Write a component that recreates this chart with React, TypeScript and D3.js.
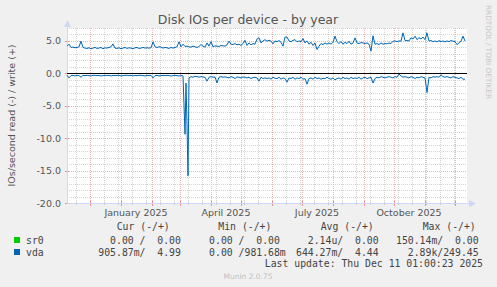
import React from "react";
import * as d3 from "d3";

const title = "Disk IOs per device - by year";
const yAxisTitle = "IOs/second read (-) / write (+)";
const startDate = new Date(Date.UTC(2024, 10, 8));
const endDate = new Date(Date.UTC(2025, 11, 13));
const stepDays = 2;

// vda write (+) IOs/s, one value every 2 days from startDate
const writeVals = [
  4.2, 4.5, 4.0, 4.05, 3.95, 4.0, 4.1, 4.97, 4.0, 3.9,
  3.85, 3.95, 3.8, 3.9, 4.0, 3.85, 3.9, 4.0, 3.8, 3.95,
  3.9, 4.0, 4.1, 4.55, 3.9, 3.85, 3.95, 3.8, 3.9, 4.0,
  3.85, 3.95, 3.9, 3.8, 3.95, 4.0, 3.85, 3.9, 4.0, 3.9,
  3.95, 3.9, 3.95, 4.86, 4.1, 4.0, 4.1, 4.05, 3.9, 4.0,
  3.95, 3.85, 4.0, 3.9, 4.0, 4.1, 4.86, 4.1, 4.5, 4.15,
  4.2, 4.1, 4.05, 4.2, 4.1, 4.0, 4.15, 4.45, 4.2, 4.05,
  4.7, 4.2, 4.9, 4.1, 4.25, 4.2, 4.15, 4.3, 4.25, 4.2,
  4.4, 4.97, 4.5, 4.45, 4.6, 4.4, 4.5, 4.3, 4.6, 5.1,
  4.3, 4.7, 4.4, 4.6, 4.5, 5.3, 5.5, 4.7, 5.0, 5.2,
  4.97, 5.1, 4.97, 4.55, 5.0, 4.9, 5.06, 4.8, 4.2, 5.6,
  5.6, 5.0, 4.9, 5.1, 5.2, 4.86, 5.0, 4.9, 5.37, 4.7,
  5.0, 4.5, 4.8, 4.3, 4.7, 3.68, 4.2, 4.6, 4.45, 4.7,
  4.5, 4.7, 4.5, 4.8, 5.74, 4.9, 4.6, 4.9, 4.5, 4.8,
  4.6, 4.97, 4.5, 4.7, 5.48, 4.7, 4.6, 4.75, 4.7, 4.6,
  4.7, 4.5, 3.43, 5.8, 4.5, 4.6, 4.45, 4.7, 4.5, 4.6,
  4.55, 4.7, 4.6, 4.97, 5.0, 4.9, 5.0, 4.97, 6.25, 5.06,
  5.06, 5.0, 5.5, 5.3, 5.74, 5.2, 5.5, 5.3, 5.6, 5.2,
  6.25, 5.0, 5.06, 4.9, 5.0, 4.86, 5.06, 4.9, 5.0, 4.86,
  5.0, 4.9, 5.06, 4.97, 4.9, 4.45, 4.7, 4.97, 5.74, 4.99,
];

// vda read (-) IOs/s, one value every 2 days from startDate (drawn negative)
const readVals = [
  0.3, 0.7, 0.35, 0.3, 0.4, 0.3, 0.35, 0.6, 0.3, 0.35,
  0.3, 0.35, 0.4, 0.3, 0.3, 0.35, 0.3, 0.4, 0.35, 0.3,
  0.35, 0.3, 0.4, 0.3, 0.35, 0.3, 0.3, 0.4, 0.35, 0.3,
  0.3, 0.35, 0.3, 0.4, 0.3, 0.35, 0.3, 0.3, 0.35, 0.4,
  0.3, 0.35, 0.3, 0.7, 0.35, 0.3, 0.4, 0.35, 0.3, 0.35,
  0.3, 0.35, 0.4, 0.35, 0.3, 0.35, 0.4, 0.35, 0.4, 9.4,
  8.0, 0.7, 0.5, 0.6, 0.45, 0.5, 0.6, 0.5, 0.55, 0.6,
  1.2, 0.6, 0.5, 0.6, 0.55, 1.47, 0.6, 0.5, 0.6, 0.55,
  0.6, 0.7, 0.5, 0.6, 0.8, 0.55, 0.6, 0.7, 0.55, 0.6,
  0.7, 0.6, 0.8, 0.65, 0.6, 0.7, 1.2, 0.6, 0.8, 0.7,
  0.8, 0.7, 0.9, 0.6, 0.75, 0.8, 0.6, 0.9, 0.7, 0.8,
  1.36, 0.7, 0.8, 0.6, 0.9, 0.7, 0.8, 0.6, 0.9, 0.8,
  1.67, 0.8, 0.7, 0.9, 0.6, 0.8, 0.7, 0.9, 0.75, 0.8,
  0.6, 0.8, 0.9, 0.7, 1.0, 0.8, 0.7, 0.9, 0.6, 0.8,
  0.7, 0.9, 0.6, 0.8, 0.7, 0.8, 0.6, 0.9, 0.7, 0.6,
  0.8, 0.7, 0.6, 1.5, 0.8, 0.6, 0.7, 0.5, 0.6, 0.7,
  0.6, 0.5, 0.6, 0.7, 0.5, 0.6, 0.1, 0.4, 0.6, 0.5,
  0.6, 0.7, 0.5, 0.6, 0.8, 0.6, 0.7, 0.5, 0.6, 0.7,
  2.96, 0.6, 0.7, 0.5, 0.6, 0.5, 0.6, 0.23, 0.5, 0.6,
  0.5, 0.6, 0.7, 0.5, 0.6, 0.7, 0.8, 0.6, 0.9, 0.9,
];

// extra daily read samples around the February spike (day offset, value)
const readSpikeDays = [119, 121];
const readSpikeVals = [1.5, 15.8];

const yMin = -20;
const yMax = 7;
const yLabelTicks = [5, 0, -5, -10, -15, -20];

const legendHeaders = ["Cur (-/+)", "Min (-/+)", "Avg (-/+)", "Max (-/+)"];
const seriesNames = ["sr0", "vda"];
const seriesColors = ["#00CC00", "#0066B3"];
const curVals = ["  0.00 /  0.00", "905.87m/  4.99"];
const minVals = ["  0.00 /  0.00", "  0.00 /981.68m"];
const avgVals = ["  2.14u/  0.00", "644.27m/  4.44"];
const maxVals = ["150.14m/  0.00", "  2.89k/249.45"];
const lastUpdate = "Last update: Thu Dec 11 01:00:23 2025";
const footer = "Munin 2.0.75";
const watermark = "RRDTOOL / TOBI OETIKER";

const DAY = 86400000;

export default function App() {
  const W = 497;
  const H = 287;
  const left = 67;
  const right = 467;
  const top = 28;
  const bottom = 203;

  const x = d3.scaleUtc().domain([startDate, endDate]).range([left, right]);
  const y = d3.scaleLinear().domain([yMin, yMax]).range([bottom, top]);

  const dayDate = (d: number) => new Date(startDate.getTime() + d * DAY);

  const writePts = writeVals.map((v, i) => ({ d: dayDate(i * stepDays), v }));
  const readPtsRaw = readVals.map((v, i) => ({ day: i * stepDays, v }));
  readSpikeDays.forEach((day, i) => readPtsRaw.push({ day, v: readSpikeVals[i] }));
  readPtsRaw.sort((a, b) => a.day - b.day);
  const readPts = readPtsRaw.map((p) => ({ d: dayDate(p.day), v: -p.v }));

  const line = d3
    .line<{ d: Date; v: number }>()
    .x((p) => x(p.d))
    .y((p) => y(p.v));

  const months = d3.utcMonth.range(startDate, endDate);
  const minorX = d3.utcDay.range(new Date(Date.UTC(2024, 10, 17)), endDate, 14);
  const labelMonths = months.filter((m) => m.getUTCMonth() % 3 === 0);
  const fmt = d3.utcFormat("%B %Y");

  const minorY = d3.range(yMin, yMax + 1, 1).filter((v) => v % 5 !== 0);
  const majorY = d3.range(yMin, yMax + 1, 5);

  const mono = "'DejaVu Sans Mono', monospace";
  const sans = "'DejaVu Sans', sans-serif";
  const colStarts = [98.3, 197.3, 296, 396];
  const headerStarts = [116.7, 218.3, 320.7, 422.7];
  const cols = [curVals, minVals, avgVals, maxVals];
  const rowY = [243.5, 255.5];
  const px = (v: number) => Math.round(v) + 0.5;

  return (
    <svg width={W} height={H} style={{ display: "block", position: "absolute", left: 0, top: 0 }}>
      <rect x={0} y={0} width={W} height={H} fill="#F0F0F0" />
      <rect x={left} y={top} width={right - left} height={bottom - top} fill="#FFFFFF" />

      {/* minor grid */}
      {minorY.map((v) => (
        <line key={"my" + v} x1={left} x2={right} y1={px(y(v))} y2={px(y(v))}
          stroke="#D4D4D4" strokeDasharray="1,1" />
      ))}
      {minorX.map((d) => (
        <line key={"mx" + d.getTime()} x1={px(x(d))} x2={px(x(d))} y1={top} y2={bottom}
          stroke="#D4D4D4" strokeDasharray="1,1" />
      ))}
      {/* major grid */}
      {majorY.map((v) => (
        <line key={"My" + v} x1={left} x2={right} y1={px(y(v))} y2={px(y(v))}
          stroke="#F0B4B4" strokeDasharray="1,1" />
      ))}
      {months.map((d) => (
        <line key={"Mx" + d.getTime()} x1={px(x(d))} x2={px(x(d))} y1={top} y2={bottom}
          stroke="#F0B4B4" strokeDasharray="1,1" />
      ))}

      {/* tick marks */}
      {minorX.map((d) => (
        <line key={"tmx" + d.getTime()} x1={px(x(d))} x2={px(x(d))} y1={bottom - 1} y2={bottom + 2}
          stroke="#C8C8C8" />
      ))}
      {months.map((d) => (
        <line key={"tMx" + d.getTime()} x1={px(x(d))} x2={px(x(d))} y1={bottom - 2} y2={bottom + 3}
          stroke="#E89090" />
      ))}
      {majorY.map((v) => (
        <line key={"tMy" + v} x1={left - 2} x2={left + 2} y1={px(y(v))} y2={px(y(v))}
          stroke="#E89090" />
      ))}

      {/* axes */}
      <line x1={left + 0.5} x2={left + 0.5} y1={bottom + 0.5} y2={top - 4} stroke="#CFD6F8" />
      <path d={`M${left + 0.5},${top - 8} L${left - 3},${top - 1} L${left + 4},${top - 1} Z`} fill="#CFD6F8" />
      <line x1={left} x2={right + 5} y1={bottom + 0.5} y2={bottom + 0.5} stroke="#CFD6F8" />
      <path d={`M${right + 9},${bottom + 0.5} L${right + 2},${bottom - 3} L${right + 2},${bottom + 4} Z`} fill="#CFD6F8" />

      {/* data */}
      <line x1={left} x2={right} y1={px(y(0))} y2={px(y(0))} stroke={seriesColors[0]} />
      <path d={line(writePts) || ""} fill="none" stroke={seriesColors[1]} strokeWidth={1} />
      <path d={line(readPts) || ""} fill="none" stroke={seriesColors[1]} strokeWidth={1} />
      <line x1={left} x2={right} y1={px(y(0))} y2={px(y(0))} stroke="#000000" />

      {/* y labels */}
      {yLabelTicks.map((v) => (
        <text key={"yl" + v} x={61} y={y(v) + 3.5} textAnchor="end" fontFamily={sans} fontSize={9.5} fill="#555">
          {v.toFixed(1)}
        </text>
      ))}
      {/* x labels */}
      {labelMonths.map((m) => (
        <text key={"xl" + m.getTime()} x={x(new Date(m.getTime() + 15 * DAY))} y={215.5} textAnchor="middle"
          fontFamily={sans} fontSize={9.5} fill="#555">
          {fmt(m)}
        </text>
      ))}

      {/* title */}
      <text x={248} y={23.5} textAnchor="middle" fontFamily={sans} fontSize={12.5} fill="#555">{title}</text>
      <text transform={`translate(14.5,${(top + bottom) / 2}) rotate(-90)`} textAnchor="middle" fontFamily={sans}
        fontSize={9.5} fill="#555">{yAxisTitle}</text>
      <text transform={`translate(486,5) rotate(90)`} textAnchor="start" fontFamily={sans} fontSize={7.3}
        fill="#C8C8C8">{watermark}</text>

      {/* legend */}
      {legendHeaders.map((h, i) => (
        <text key={"h" + i} x={headerStarts[i]} y={230} fontFamily={mono} fontSize={9.8} fill="#444"
          xmlSpace="preserve" style={{ whiteSpace: "pre" }}>{h}</text>
      ))}
      {seriesNames.map((n, r) => (
        <g key={n}>
          <rect x={14} y={rowY[r] - 6.5} width={6} height={6} fill={seriesColors[r]} />
          <text x={26} y={rowY[r]} fontFamily={mono} fontSize={9.8} fill="#444">{n}</text>
          {cols.map((c, ci) => (
            <text key={ci} x={colStarts[ci]} y={rowY[r]} fontFamily={mono} fontSize={9.8} fill="#444"
              xmlSpace="preserve" style={{ whiteSpace: "pre" }}>{c[r]}</text>
          ))}
        </g>
      ))}
      <text x={483} y={267} textAnchor="end" fontFamily={mono} fontSize={9.8} fill="#444"
        xmlSpace="preserve" style={{ whiteSpace: "pre" }}>{lastUpdate}</text>
      <text x={248} y={279} textAnchor="middle" fontFamily={sans} fontSize={7.5} fill="#C0C0C0">{footer}</text>
    </svg>
  );
}
